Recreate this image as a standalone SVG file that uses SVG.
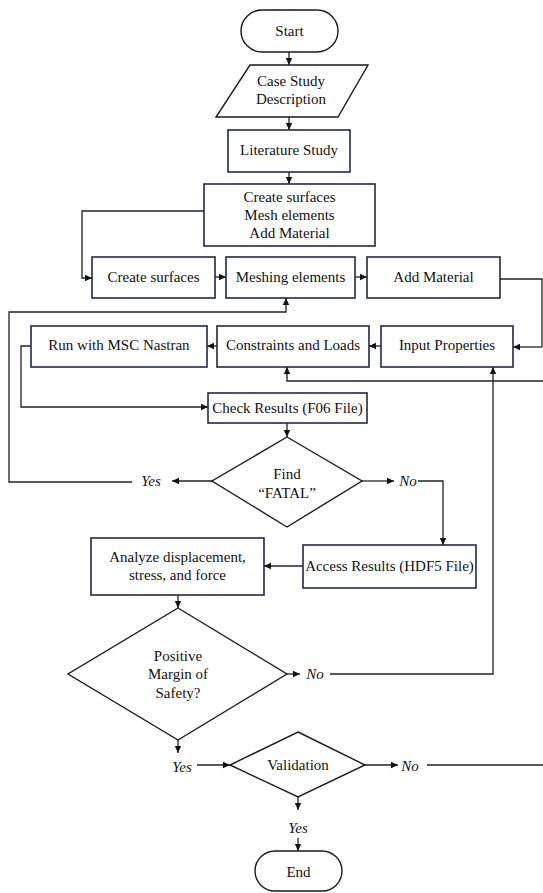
<svg xmlns="http://www.w3.org/2000/svg" width="543" height="893" viewBox="0 0 543 893">
<defs>
<marker id="ah" markerWidth="8" markerHeight="8" refX="7" refY="4" orient="auto" markerUnits="userSpaceOnUse">
<path d="M0,0.8 L7,4 L0,7.2 Z" fill="#111"/>
</marker>
</defs>
<style>
.box{fill:#fff;stroke:#1e2a44;stroke-width:1.6}
.shape{fill:#fff;stroke:#1a1a1a;stroke-width:1.4}
.t{font-family:"Liberation Serif","Times New Roman",serif;font-size:15px;fill:#111;text-anchor:middle;dominant-baseline:central}
.i{font-style:italic}
.c{fill:none;stroke:#222;stroke-width:1.3}
.a{marker-end:url(#ah)}
</style>
<rect width="543" height="893" fill="#fff"/>
<g id="connectors">
<path class="c a" d="M289,52 V65"/>
<path class="c a" d="M289,117 V130"/>
<path class="c a" d="M289,172 V184"/>
<path class="c a" d="M204,211 H82 V278 H92"/>
<path class="c a" d="M215,277 H226"/>
<path class="c a" d="M355,277 H367"/>
<path class="c" d="M500,279 H542 V347"/>
<path class="c a" d="M542,347 H513"/>
<path class="c a" d="M381,346 H369"/>
<path class="c a" d="M217,346 H207"/>
<path class="c a" d="M31,346 H21 V407 H208"/>
<path class="c a" d="M543,381 H287 V367"/>
<path class="c a" d="M287,423 V437"/>
<path class="c a" d="M212,481 H172"/>
<path class="c a" d="M132,482 H9 V312 H286 V298"/>
<path class="c a" d="M362,481 H394"/>
<path class="c a" d="M418,481 H443 V545"/>
<path class="c a" d="M303,566 H264"/>
<path class="c a" d="M178,595 V608"/>
<path class="c a" d="M287,674 H300"/>
<path class="c a" d="M330,674 H493 V367"/>
<path class="c a" d="M178,740 V753"/>
<path class="c a" d="M197,765 H230"/>
<path class="c a" d="M365,765 H398"/>
<path class="c" d="M427,765 H543"/>
<path class="c a" d="M298,797 V810"/>
<path class="c a" d="M298,838 V851"/>
</g>
<g id="start"><rect class="shape" x="241" y="10" width="97" height="42" rx="21"/><text class="t" x="289.5" y="31">Start</text></g>
<g id="case"><polygon class="shape" points="250,65 368,65 338,117 216,117"/><text class="t" x="291" y="81">Case Study</text><text class="t" x="291" y="99">Description</text></g>
<g id="lit"><rect class="box" x="228" y="130" width="122" height="42"/><text class="t" x="289" y="150">Literature Study</text></g>
<g id="create"><rect class="box" x="204" y="184" width="171" height="62"/><text class="t" x="289.5" y="197">Create surfaces</text><text class="t" x="289.5" y="215">Mesh elements</text><text class="t" x="289.5" y="233">Add Material</text></g>
<g id="surfaces"><rect class="box" x="92" y="257" width="123" height="41"/><text class="t" x="153.5" y="277">Create surfaces</text></g>
<g id="meshing"><rect class="box" x="226" y="257" width="129" height="41"/><text class="t" x="290.5" y="277">Meshing elements</text></g>
<g id="material"><rect class="box" x="367" y="257" width="133" height="41"/><text class="t" x="433.5" y="277">Add Material</text></g>
<g id="nastran"><rect class="box" x="31" y="326" width="176" height="41"/><text class="t" x="119" y="345">Run with MSC Nastran</text></g>
<g id="constraints"><rect class="box" x="217" y="326" width="152" height="41"/><text class="t" x="293" y="345">Constraints and Loads</text></g>
<g id="input"><rect class="box" x="381" y="326" width="132" height="41"/><text class="t" x="447" y="345">Input Properties</text></g>
<g id="check"><rect class="box" x="208" y="393" width="159" height="30"/><text class="t" x="287.5" y="408">Check Results (F06 File)</text></g>
<g id="fatal"><polygon class="shape" points="287,437 362,481 287,527 212,481"/><text class="t" x="287" y="474">Find</text><text class="t" x="287" y="493">“FATAL”</text></g>
<g id="fatal-labels"><text class="t i" x="151" y="481">Yes</text><text class="t i" x="408" y="481">No</text></g>
<g id="access"><rect class="box" x="303" y="545" width="173" height="43"/><text class="t" x="389.5" y="566">Access Results (HDF5 File)</text></g>
<g id="analyze"><rect class="box" x="91" y="538" width="173" height="57"/><text class="t" x="177.5" y="557">Analyze displacement,</text><text class="t" x="177.5" y="575">stress, and force</text></g>
<g id="margin"><polygon class="shape" points="178,608 287,674 178,740 68,674"/><text class="t" x="178" y="656">Positive</text><text class="t" x="178" y="674">Margin of</text><text class="t" x="178" y="693">Safety?</text></g>
<g id="margin-labels"><text class="t i" x="315" y="674">No</text><text class="t i" x="182" y="767">Yes</text></g>
<g id="validation"><polygon class="shape" points="298,732 365,765 298,797 230,765"/><text class="t" x="298" y="765">Validation</text></g>
<g id="validation-labels"><text class="t i" x="410" y="766">No</text><text class="t i" x="298" y="828">Yes</text></g>
<g id="end"><rect class="shape" x="255" y="851" width="87" height="40" rx="20"/><text class="t" x="298.5" y="872">End</text></g>
</svg>
